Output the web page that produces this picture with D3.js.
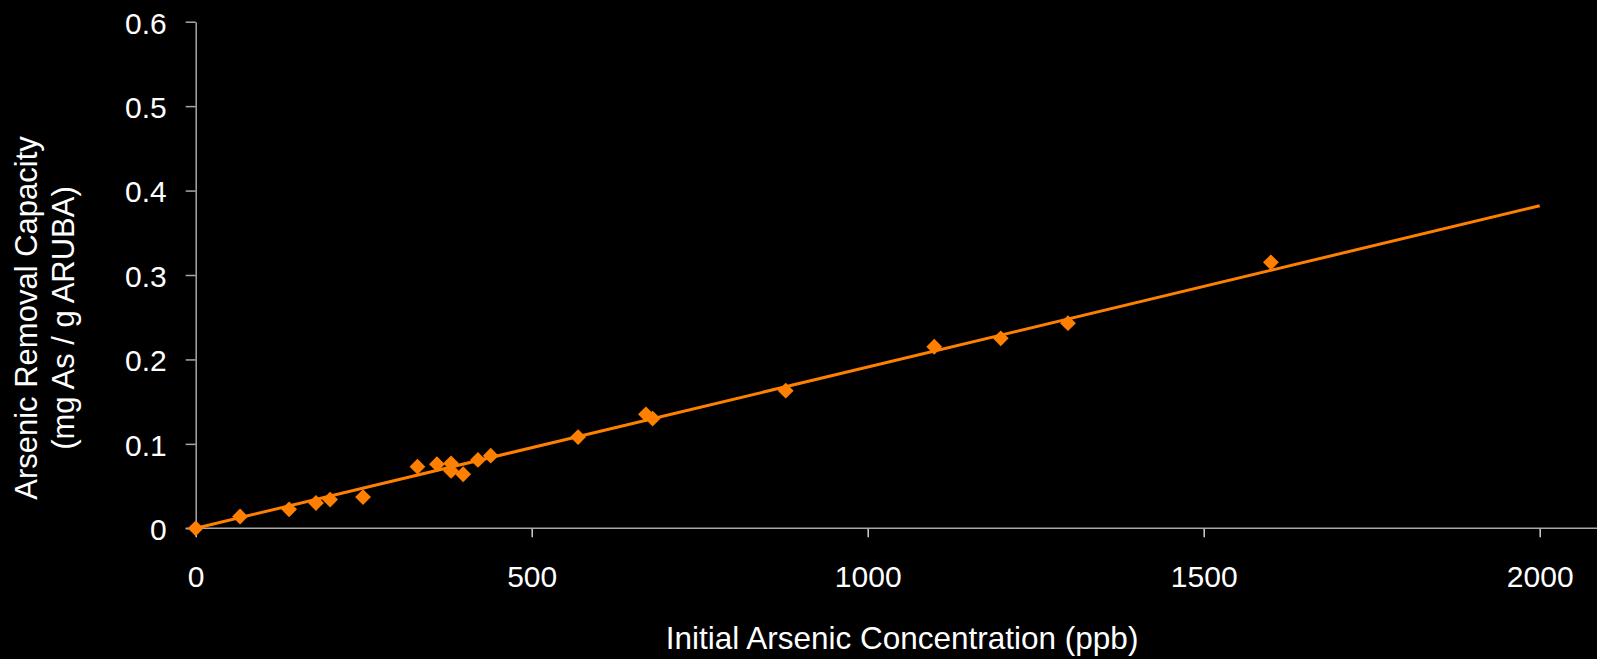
<!DOCTYPE html>
<html>
<head>
<meta charset="utf-8">
<script src="https://cdn.jsdelivr.net/npm/d3@7"></script>
<style>
  html, body { margin: 0; padding: 0; background: #000; }
  svg { display: block; }
  text { font-family: "Liberation Sans", Arial, sans-serif; fill: #fff; }
</style>
</head>
<body>
<div id="vis"></div>
<script>
// measured points: initial concentration (ppb) vs removal capacity (mg As / g)
const concentration = [0, 66, 139, 179, 200, 249, 330, 359, 380, 380, 398, 420, 439,
    569, 670, 680, 878, 1099, 1198, 1298, 1600];
const capacity = [0, 0.014, 0.0225, 0.030, 0.034, 0.037, 0.073, 0.076, 0.077, 0.068, 0.064,
    0.081, 0.086, 0.108, 0.135, 0.130, 0.163, 0.215, 0.225, 0.243, 0.315];

// linear trendline end points
const trendX = [0, 2000];
const trendY = [0, 0.382];

const xTicks = [0, 500, 1000, 1500, 2000];
const xTickLabels = ["0", "500", "1000", "1500", "2000"];
const yTicks = [0, 0.1, 0.2, 0.3, 0.4, 0.5, 0.6];
const yTickLabels = ["0", "0.1", "0.2", "0.3", "0.4", "0.5", "0.6"];

const xTitle = "Initial Arsenic Concentration (ppb)";
const yTitle = ["Arsenic Removal Capacity", "(mg As / g ARUBA)"];

let width = 1597;
let height = 659;
const orange = "#ff8000";
const axisGrey = "#a8a8a8";

var svg = d3.select("#vis")
    .append("svg")
    .attr("width", width)
    .attr("height", height)
    .style("background", "#000");

var x = d3.scaleLinear().domain([0, 2000]).range([195.7, 1539.7]);
var y = d3.scaleLinear().domain([0, 0.6]).range([528.3, 21.7]);

// y axis
var yAxis = svg.append("g")
    .attr("transform", "translate(" + x(0) + ",0)")
    .call(d3.axisLeft(y)
        .tickValues(yTicks)
        .tickFormat((d, i) => yTickLabels[i])
        .tickSize(10)
        .tickSizeOuter(0)
        .tickPadding(19));
yAxis.select(".domain").attr("stroke", axisGrey).attr("stroke-width", 1.5);
yAxis.selectAll(".tick line").attr("stroke", axisGrey).attr("stroke-width", 1.5);
yAxis.selectAll(".tick text")
    .attr("fill", "#fff")
    .style("font-size", "30px")
    .attr("dy", "0.38em");

// x axis
var xAxis = svg.append("g")
    .attr("transform", "translate(0," + y(0) + ")")
    .call(d3.axisBottom(x)
        .tickValues(xTicks)
        .tickFormat((d, i) => xTickLabels[i])
        .tickSize(9)
        .tickSizeOuter(0)
        .tickPadding(28));
xAxis.select(".domain").remove();
xAxis.append("line")
    .attr("x1", x(0) - 10)
    .attr("x2", width)
    .attr("stroke", axisGrey)
    .attr("stroke-width", 1.5);
xAxis.selectAll(".tick line").attr("stroke", "#d0d0d0").attr("stroke-width", 1.5);
xAxis.selectAll(".tick text")
    .attr("fill", "#fff")
    .style("font-size", "30px");

// trendline
var points = concentration.map((c, i) => ({ x: c, y: capacity[i] }));
var trend = trendX.map((t, i) => ({ x: t, y: trendY[i] }));

var line = d3.line()
    .x(function (d) { return x(d.x); })
    .y(function (d) { return y(d.y); });

svg.append("path")
    .datum(trend)
    .attr("d", line)
    .attr("fill", "none")
    .attr("stroke", orange)
    .attr("stroke-width", 3);

// diamond markers
var diamond = d3.symbol().type(d3.symbolSquare).size(125);
svg.selectAll(".pt")
    .data(points)
    .enter().append("path")
    .attr("class", "pt")
    .attr("d", diamond)
    .attr("transform", function (d) {
        return "translate(" + x(d.x) + "," + y(d.y) + ") rotate(45)";
    })
    .attr("fill", orange);

// titles
svg.append("text")
    .attr("x", 902)
    .attr("y", 649)
    .attr("text-anchor", "middle")
    .style("font-size", "31.5px")
    .text(xTitle);

svg.selectAll(".ytitle")
    .data(yTitle)
    .enter().append("text")
    .attr("class", "ytitle")
    .attr("transform", function (d, i) {
        return "translate(" + (37 + i * 37) + ",318) rotate(-90)";
    })
    .attr("text-anchor", "middle")
    .style("font-size", "31px")
    .text(function (d) { return d; });
</script>
</body>
</html>
